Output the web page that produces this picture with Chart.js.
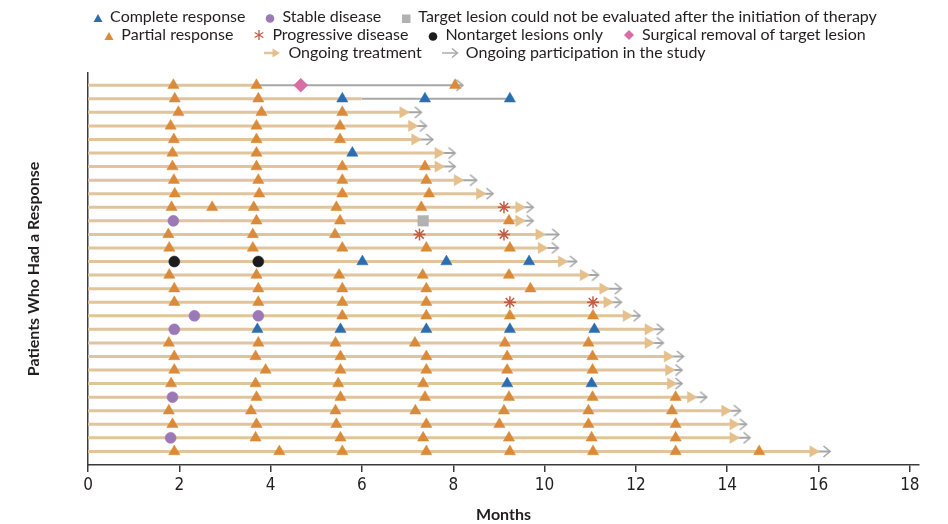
<!DOCTYPE html>
<html>
<head>
<meta charset="utf-8">
<script src="https://cdn.jsdelivr.net/npm/chart.js@4.4.1/dist/chart.umd.min.js"></script>
<style>
  html, body { margin: 0; padding: 0; background: #fff; }
  #wrap { position: relative; width: 948px; height: 524px; }
  #legend { position: absolute; left: 0; top: 7px; width: 970px; font-family: Lato, "Open Sans", sans-serif;
            font-size: 16px; color: #231f20; text-align: center; line-height: 18px; }
  #legend .row { white-space: nowrap; }
  #legend .item { display: inline-block; margin: 0 10px; }
  #legend svg { vertical-align: -1px; margin-right: 7px; }
</style>
</head>
<body>
<div id="wrap">
  <canvas id="swimmer" width="948" height="524"></canvas>
  <div id="legend"></div>
</div>
<script>
// one row per patient, top to bottom
const patients = Array.from({ length: 28 }, (_, i) => i + 1);

// months on study
const treatmentEnd = [3.69, 5.99, 6.90, 7.09, 7.16, 7.67, 7.67, 8.09, 8.58, 9.44, 9.44, 9.88, 9.93, 10.37,
                      10.85, 11.28, 11.37, 11.79, 12.27, 12.27, 12.69, 12.72, 12.76, 13.20, 13.95, 14.13, 14.13, 15.88];
const studyEnd = [8.21, 9.24, 7.30, 7.41, 7.55, 8.04, 8.04, 8.51, 8.87, 9.75, 9.75, 10.31, 10.30, 10.70,
                  11.18, 11.68, 11.68, 12.09, 12.60, 12.60, 13.04, 13.01, 13.01, 13.55, 14.29, 14.42, 14.50, 16.25];
const ongoingTreatment = [false, false, true, true, true, true, true, true, true, true, true, true, true, true,
                          true, true, true, true, true, true, true, true, true, true, true, true, true, true];
const ongoingStudy = [true, false, true, true, true, true, true, true, true, true, true, true, true, true,
                      true, true, true, true, true, true, true, true, true, true, true, true, true, true];

// assessments: [patient, month]
const completeResponse = [[2, 5.57], [2, 7.38], [2, 9.24], [6, 5.79], [14, 6.01], [14, 7.85], [14, 9.66],
  [19, 3.71], [19, 5.53], [19, 7.41], [19, 9.24], [19, 11.09], [23, 9.18], [23, 11.03]];
const partialResponse = [
  [1, 1.87], [1, 3.69], [1, 8.04],
  [2, 1.90], [2, 3.73],
  [3, 1.98], [3, 3.80], [3, 5.57],
  [4, 1.81], [4, 3.69], [4, 5.52],
  [5, 1.88], [5, 3.69], [5, 5.52],
  [6, 1.85], [6, 3.69],
  [7, 1.85], [7, 3.69], [7, 5.57], [7, 7.38],
  [8, 1.88], [8, 3.73], [8, 5.57], [8, 7.41],
  [9, 1.90], [9, 3.75], [9, 5.57], [9, 7.47],
  [10, 1.83], [10, 2.72], [10, 3.63], [10, 5.44], [10, 7.30],
  [11, 3.69], [11, 5.52], [11, 9.22],
  [12, 1.76], [12, 3.61], [12, 5.41],
  [13, 1.78], [13, 3.61], [13, 5.57], [13, 7.41], [13, 9.24],
  [15, 1.78], [15, 3.69], [15, 5.50], [15, 7.33], [15, 9.22],
  [16, 1.89], [16, 3.73], [16, 5.57], [16, 7.41], [16, 9.69],
  [17, 1.89], [17, 3.73], [17, 5.57], [17, 7.41],
  [18, 5.57], [18, 7.41], [18, 9.24], [18, 11.06],
  [20, 1.77], [20, 3.73], [20, 5.42], [20, 7.16], [20, 9.13], [20, 10.96],
  [21, 1.89], [21, 3.67], [21, 5.53], [21, 7.41], [21, 9.18], [21, 11.05],
  [22, 1.89], [22, 3.89], [22, 5.53], [22, 7.41], [22, 9.18], [22, 11.05],
  [23, 1.82], [23, 3.67], [23, 5.48], [23, 7.34],
  [24, 3.69], [24, 5.53], [24, 7.38], [24, 9.22], [24, 11.05], [24, 12.87],
  [25, 1.77], [25, 3.57], [25, 5.42], [25, 7.17], [25, 9.11], [25, 10.96], [25, 12.79],
  [26, 1.85], [26, 3.69], [26, 5.44], [26, 7.41], [26, 9.01], [26, 10.96], [26, 12.87],
  [27, 3.67], [27, 5.53], [27, 7.34], [27, 9.22], [27, 11.03], [27, 12.87],
  [28, 1.89], [28, 4.19], [28, 5.57], [28, 7.41], [28, 9.24], [28, 11.06], [28, 12.87], [28, 14.70]
];
const stableDisease = [[11, 1.87], [18, 2.33], [18, 3.73], [19, 1.89], [24, 1.85], [27, 1.81]];
const progressiveDisease = [[10, 9.11], [12, 7.26], [12, 9.11], [17, 9.24], [17, 11.06]];
const notEvaluable = [[11, 7.34]];
const nontargetOnly = [[14, 1.89], [14, 3.73]];
const surgicalRemoval = [[1, 4.66]];

const xTicks = [0, 2, 4, 6, 8, 10, 12, 14, 16, 18];

const colors = {
  cr: "#2c6db2", pr: "#da8a38", sd: "#9a79b6", pd: "#c75a44", ne: "#b2b2b2",
  nt: "#1c1c1c", sr: "#d86ca3", tan: "#e0c49c", tanHead: "#e5c08c", gray: "#a6a6a6"
};

// open chevron for "ongoing participation" (tip at the image centre)
function chevron() {
  const c = document.createElement("canvas");
  c.width = 20; c.height = 13;
  const g = c.getContext("2d");
  g.strokeStyle = colors.gray;
  g.lineWidth = 1.6;
  g.beginPath();
  g.moveTo(3.5, 1); g.lineTo(10, 6.5); g.lineTo(3.5, 12);
  g.stroke();
  return c;
}

const toPts = list => list.map(([p, m]) => ({ x: m, y: p }));

// segments with null breaks
const tanLine = [], grayLine = [];
patients.forEach((p, i) => {
  tanLine.push({ x: 0, y: p }, { x: treatmentEnd[i], y: p }, { x: treatmentEnd[i], y: null });
  grayLine.push({ x: treatmentEnd[i], y: p }, { x: studyEnd[i], y: p }, { x: studyEnd[i], y: null });
});
const tanHeads = patients.filter((p, i) => ongoingTreatment[i]).map(p => ({ x: treatmentEnd[p - 1], y: p }));
const grayHeads = patients.filter((p, i) => ongoingStudy[i]).map(p => ({ x: studyEnd[p - 1], y: p }));

const marker = (data, style, color, radius, extra) => Object.assign({
  type: "scatter", data: data, pointStyle: style, pointRadius: radius,
  backgroundColor: color, borderColor: color, borderWidth: 0.5, order: 1
}, extra || {});

new Chart(document.getElementById("swimmer"), {
  type: "scatter",
  data: {
    datasets: [
      { type: "line", data: tanLine, borderColor: colors.tan, borderWidth: 3, pointRadius: 0, spanGaps: false, order: 10 },
      { type: "line", data: grayLine, borderColor: colors.gray, borderWidth: 2, pointRadius: 0, spanGaps: false, order: 11 },
      marker(tanHeads, "triangle", colors.tanHead, 6.5, { rotation: 90, order: 5 }),
      marker(grayHeads, chevron(), colors.gray, 6, { order: 6 }),
      marker(toPts(partialResponse), "triangle", colors.pr, 6.5),
      marker(toPts(completeResponse), "triangle", colors.cr, 6.5),
      marker(toPts(stableDisease), "circle", colors.sd, 5.5),
      marker(toPts(progressiveDisease), "star", colors.pd, 6, { borderWidth: 1.5 }),
      marker(toPts(notEvaluable), "rect", colors.ne, 7.5),
      marker(toPts(nontargetOnly), "circle", colors.nt, 5.5),
      marker(toPts(surgicalRemoval), "rectRot", colors.sr, 7)
    ]
  },
  options: {
    responsive: false,
    animation: false,
    events: [],
    layout: { padding: { top: 73, right: 29, left: 20, bottom: 0 } },
    plugins: { legend: { display: false }, tooltip: { enabled: false } },
    scales: {
      x: {
        type: "linear", min: 0, max: 18.2,
        afterBuildTicks: s => { s.ticks = xTicks.map(v => ({ value: v })); },
        afterFit: s => { s.height = 59; },
        grid: { drawOnChartArea: false, drawTicks: true, tickLength: 7, color: "#3a3a3a", lineWidth: 1.5 },
        border: { display: true, color: "#3a3a3a", width: 1.5 },
        ticks: { color: "#231f20", padding: 3, font: { family: "'Liberation Sans Narrow', 'DejaVu Sans Condensed', sans-serif", size: 17 } },
        title: { display: true, text: "Months", color: "#231f20", padding: { top: 0, bottom: 0 },
                 font: { family: "Lato, 'Open Sans', sans-serif", size: 16, weight: "bold" } }
      },
      y: {
        type: "linear", reverse: true, min: 0.1, max: 29,
        afterFit: s => { s.width = 68; },
        grid: { display: false },
        border: { display: true, color: "#3a3a3a", width: 1.5 },
        ticks: { display: false },
        title: { display: true, text: "Patients Who Had a Response", color: "#231f20", padding: { top: 4, bottom: 0 },
                 font: { family: "Lato, 'Open Sans', sans-serif", size: 16, weight: "bold" } }
      }
    }
  }
});

// legend
const svgMark = {
  cr: `<svg width="10" height="10"><polygon points="5,1 9.5,9 0.5,9" fill="${colors.cr}"/></svg>`,
  sd: `<svg width="10" height="10"><circle cx="5" cy="5.5" r="4.3" fill="${colors.sd}"/></svg>`,
  ne: `<svg width="10" height="10"><rect x="1" y="1.5" width="8.5" height="8.5" fill="${colors.ne}"/></svg>`,
  pr: `<svg width="10" height="10"><polygon points="5,1 9.5,9 0.5,9" fill="${colors.pr}"/></svg>`,
  pd: `<svg width="12" height="12"><g stroke="${colors.pd}" stroke-width="1.3"><line x1="6" y1="1" x2="6" y2="11"/><line x1="1.7" y1="3.5" x2="10.3" y2="8.5"/><line x1="1.7" y1="8.5" x2="10.3" y2="3.5"/></g></svg>`,
  nt: `<svg width="10" height="10"><circle cx="5" cy="5.5" r="4.3" fill="${colors.nt}"/></svg>`,
  sr: `<svg width="12" height="12"><polygon points="6,1 11,6 6,11 1,6" fill="${colors.sr}"/></svg>`,
  ot: `<svg width="17" height="12"><line x1="0" y1="6" x2="10" y2="6" stroke="${colors.tan}" stroke-width="2.5"/><polygon points="8.5,1.5 16,6 8.5,10.5" fill="${colors.tanHead}"/></svg>`,
  op: `<svg width="17" height="12"><line x1="0" y1="6" x2="15" y2="6" stroke="${colors.gray}" stroke-width="1.4"/><polyline points="10,1.5 15.5,6 10,10.5" fill="none" stroke="${colors.gray}" stroke-width="1.4"/></svg>`
};
const legendRows = [
  [["cr", "Complete response"], ["sd", "Stable disease"], ["ne", "Target lesion could not be evaluated after the initiation of therapy"]],
  [["pr", "Partial response"], ["pd", "Progressive disease"], ["nt", "Nontarget lesions only"], ["sr", "Surgical removal of target lesion"]],
  [["ot", "Ongoing treatment"], ["op", "Ongoing participation in the study"]]
];
document.getElementById("legend").innerHTML = legendRows.map(r =>
  `<div class="row">${r.map(([k, t]) => `<span class="item">${svgMark[k]}${t}</span>`).join("")}</div>`
).join("");
</script>
</body>
</html>
